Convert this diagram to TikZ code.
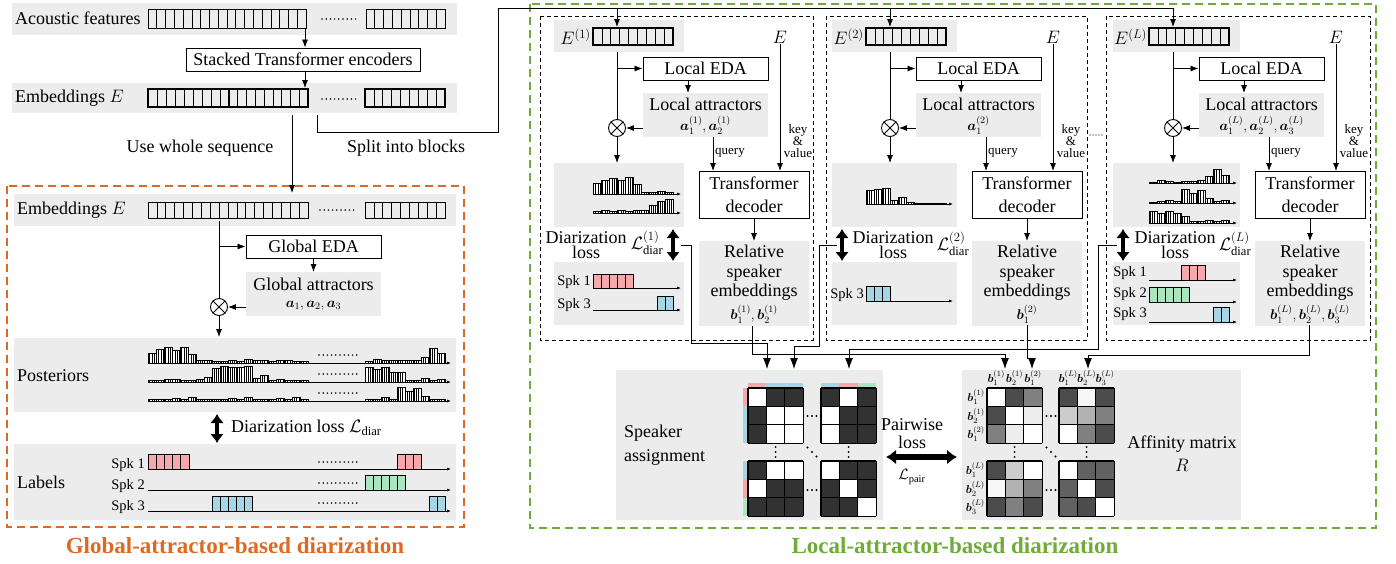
\RequirePackage{fix-cm}
\documentclass[tikz,border=0pt]{standalone}
\usepackage{amsmath}
\usepackage{fontspec}
\setmainfont{Liberation Serif}
\usetikzlibrary{arrows.meta,patterns.meta}
\definecolor{bandgray}{RGB}{236,236,236}
\definecolor{orng}{RGB}{222,105,35}
\definecolor{grn}{RGB}{110,172,55}
\definecolor{spkpink}{RGB}{246,168,170}
\definecolor{spkgreen}{RGB}{172,230,192}
\definecolor{spkblue}{RGB}{166,214,228}
\definecolor{dk}{RGB}{50,50,50}
\newcommand\myfs[1]{\fontsize{#1}{#1}\selectfont}
\newcommand\cellsrow[7]{%
  \foreach \k in {1,...,#6}{\draw[line width=0.7pt] ({#1+(#3-#1)*\k/#5},#2) -- ({#1+(#3-#1)*\k/#5},#4);}
  \draw[line width=#7] (#1,#2) rectangle (#3,#4);}
\newcommand\colcells[6]{%
  \foreach \k in {1,...,#4}{\draw[fill=#6,line width=0.7pt] ({#1+(\k-1)*#5},#2) rectangle ({#1+\k*#5},#3);}}
\newcommand\hist[4]{%
  \foreach \hh [count=\ii from 0] in {#4}{\draw[histbar] ({#1+\ii*#3},#2) rectangle ({#1+(\ii+1)*#3},{#2-\hh});}}
\newcommand\mat[4]{%
  \foreach \cc [count=\ii from 0] in {#4}{%
    \pgfmathtruncatemacro\rr{div(\ii,3)}\pgfmathtruncatemacro\qq{mod(\ii,3)}%
    \fill[fill=\cc] ({#1+\qq*#3},{#2+\rr*#3}) rectangle ({#1+(\qq+1)*#3},{#2+(\rr+1)*#3});}
  \foreach \k in {0,1,2,3}{\draw[line width=1.3pt] ({#1+\k*#3},#2) -- ({#1+\k*#3},{#2+3*#3});
    \draw[line width=1.3pt] (#1,{#2+\k*#3}) -- ({#1+3*#3},{#2+\k*#3});}}
\newcommand\hdts[2]{\foreach \d in {-4.5,0,4.5}{\fill ({#1+\d},#2) circle (1.1);}}
\newcommand\vdts[2]{\foreach \d in {-5,0,5}{\fill (#1,{#2+\d}) circle (1.1);}}
\newcommand\ddts[2]{\foreach \d in {-4.5,0,4.5}{\fill ({#1+\d},{#2+\d}) circle (1.1);}}
% common block structure (coordinates of block 1, shifted by #1)
\newcommand\blockcommon[6]{%
\begin{scope}[xshift=#1pt]
\fill[bandgray] (#3,20) rectangle (684,52);
\node[anchor=east] (E#6) at (592,37) {$E^{(#2)}$};
\cellsrow{593}{28}{673}{45}{9}{8}{2.4pt}
\coordinate (Ein#6) at (617,27);
\node (kv#6) at (780,37) {$E$};
\node[box,minimum width=125pt,minimum height=23pt] (eda#6) at (705.5,68.5) {Local EDA};
\fill[bandgray] (643,93) rectangle (768,137);
\node (la#6) at (705.5,104) {Local attractors};
\node[font=\myfs{14}] (av#6) at (705.5,125) {#4};
\node[ot] (ot#6) at (617,128) {};
\draw[line width=0.9pt] (ot#6.north east) -- (ot#6.south west) (ot#6.north west) -- (ot#6.south east);
\coordinate (vtop#6) at (617,52);
\draw[ln] (vtop#6) -- (ot#6);
\draw[arr] (617,68.5) -- (eda#6.west);
\draw[arr] (688,80) -- (688,93);
\draw[arr] (643,128) -- (ot#6);
\fill[bandgray] (#3,163) rectangle (684,227);
\draw[arr] (ot#6) -- (617,163);
\fill[bandgray] (#3,262) rectangle (684,325);
\node[box,minimum width=110pt,minimum height=47pt,align=center,font=\fontsize{18}{23}\selectfont] (dec#6) at (754,194.5) {Transformer\\decoder};
\draw[arr] (713,137) -- (713,171);
\node[small,anchor=west] at (714,153) {query};
\draw[arr] (kv#6) -- (780,171);
\node[small,align=center] at (798,141) {key\\\&\\value};
\fill[bandgray] (699,241) rectangle (809,326);
\node[align=center,font=\fontsize{18}{19.5}\selectfont] (rse#6) at (754,273) {Relative\\speaker\\embeddings};
\node[font=\myfs{14}] (bv#6) at (754,314) {#5};
\draw[arr] (dec#6) -- (754,241);
\end{scope}}
\begin{document}
\begin{tikzpicture}[x=1pt,y=-1pt,
  font=\fontsize{18}{21}\selectfont,
  every node/.style={inner sep=1pt},
  box/.style={draw,line width=0.9pt,fill=white,inner sep=0pt},
  ln/.style={line width=0.8pt},
  arr/.style={line width=0.8pt,-{Latex[length=8pt,width=6pt]}},
  bigarr/.style={line width=0.8pt,-{Latex[length=11pt,width=8pt]}},
  axis/.style={line width=0.7pt,-{Latex[length=4pt,width=3pt]}},
  histbar/.style={draw,line width=0.5pt,fill=white,postaction={pattern={Lines[angle=90,distance=2.3pt,line width=0.5pt]}}},
  dotline/.style={line width=1.7pt,line cap=round,dash pattern=on 0pt off 4.2pt},
  dbl/.style={line width=4.5pt,{Latex[length=9pt,width=14pt]}-{Latex[length=9pt,width=14pt]}},
  blockbox/.style={line width=0.9pt,dash pattern=on 4pt off 3pt},
  small/.style={font=\fontsize{13}{12}\selectfont},
  spk/.style={font=\fontsize{14.5}{16}\selectfont},
  ot/.style={circle,draw,line width=0.9pt,fill=white,minimum size=17pt,inner sep=0pt},
  dl/.style={align=center,font=\fontsize{18}{15}\selectfont,inner sep=0pt},
  ld/.style={inner sep=0pt},
  bl/.style={font=\myfs{11.5},inner sep=0pt}
]
\useasboundingbox (0,0) rectangle (1396,563);

% ================= top-left
\fill[bandgray] (12,3) rectangle (457,35);
\node[anchor=west] (aclab) at (14,18) {Acoustic features};
\cellsrow{148}{9}{306}{28}{18}{17}{0.8pt}
\cellsrow{366}{9}{445}{28}{9}{8}{0.8pt}
\draw[dotline] (322,19) -- (356,19);
\coordinate (acout) at (305,28);
\node[box,minimum width=234pt,minimum height=23pt] (ste) at (303,59.5) {Stacked Transformer encoders};
\draw[arr] (acout) -- (ste.north -| acout);
\fill[bandgray] (12,83) rectangle (457,113);
\node[anchor=west] (emblab) at (14,98) {Embeddings $E$};
\cellsrow{148}{89}{229}{107}{9}{8}{2.4pt}
\cellsrow{229}{89}{308}{107}{9}{8}{2.4pt}
\cellsrow{365}{89}{445}{107}{9}{8}{2.4pt}
\draw[dotline] (322,99) -- (356,99);
\coordinate (embin) at (305,88);
\draw[arr] (ste.south -| embin) -- (embin);
\coordinate (wsout) at (292,115);
\coordinate (sbout) at (317,115);
\node (wstext) at (200,148) {Use whole sequence};
\node (sbtext) at (406,148) {Split into blocks};

% ================= global (orange)
\draw[orng,line width=2pt,dash pattern=on 8pt off 5pt] (7,186) rectangle (464,527);
\node[orng,font=\bfseries\myfs{23}] (gtitle) at (235,546) {Global-attractor-based diarization};
\fill[bandgray] (14,194) rectangle (456,226);
\node[anchor=west] (gemblab) at (16,210) {Embeddings $E$};
\cellsrow{148}{202}{308}{218}{18}{17}{0.8pt}
\cellsrow{365}{202}{445}{218}{9}{8}{0.8pt}
\draw[dotline] (320,210) -- (356,210);
\coordinate (gemb) at (292,193);
\draw[arr] (wsout) -- (gemb);
\coordinate (gv) at (219,221);
\node[box,minimum width=135pt,minimum height=23pt] (geda) at (313.5,246.5) {Global EDA};
\fill[bandgray] (246,272) rectangle (381,316);
\node (gatt) at (313.5,284) {Global attractors};
\node[font=\myfs{14}] (gav) at (313.5,306) {$\boldsymbol{a}_1,\boldsymbol{a}_2,\boldsymbol{a}_3$};
\node[ot] (got) at (219,307) {};
\draw[line width=0.9pt] (got.north east) -- (got.south west) (got.north west) -- (got.south east);
\draw[ln] (gv) -- (got);
\draw[arr] (219,246.5) -- (geda.west);
\draw[arr] (geda.south) -- (313.5,272);
\draw[arr] (246,307) -- (got);
\coordinate (gpost) at (219,337);
\draw[arr] (got) -- (gpost);
% posteriors
\fill[bandgray] (14,338) rectangle (456,412);
\node[anchor=west] (postlab) at (16,376) {Posteriors};
\draw[axis] (148,363) -- (451,363);
\draw[axis] (148,382) -- (451,382);
\draw[axis] (148,401) -- (451,401);
\hist{148}{363}{8}{10,14,16,13,16,9,3,3,2,2,3,2,4,3,3,2,3,3,2,2}
\hist{365}{363}{8}{2,4,3,3,3,3,3,6,15,10}
\hist{148}{382}{8}{2,2,3,3,2,2,3,5,14,16,15,15,16,4,7,2,3,2,2,2}
\hist{365}{382}{8}{15,13,15,10,10,2,2,4,2,3}
\hist{148}{401}{8}{2,2,2,3,2,4,2,2,2,2,3,2,4,2,2,2,3,2,4,2}
\hist{365}{401}{8}{2,2,4,2,14,10,13,5,2,2}
\draw[dotline] (319,355) -- (357,355);
\draw[dotline] (319,374) -- (357,374);
\draw[dotline] (319,393) -- (357,393);
% diarization loss
\draw[dbl] (217,414) -- (217,443);
\node[anchor=west] (gdl) at (230,428) {Diarization loss $\mathcal{L}_{\mathrm{diar}}$};
% labels
\fill[bandgray] (14,444) rectangle (456,520);
\node[anchor=west] (lablab) at (16,482) {Labels};
\node[spk,anchor=east] at (146,465) {Spk 1};
\node[spk,anchor=east] at (146,486) {Spk 2};
\node[spk,anchor=east] at (146,507) {Spk 3};
\draw[axis] (148,469) -- (451,469);
\draw[axis] (148,490) -- (451,490);
\draw[axis] (148,511) -- (451,511);
\colcells{148}{454}{469}{5}{8.2}{spkpink}
\colcells{397}{454}{469}{3}{8}{spkpink}
\colcells{365}{475}{490}{5}{8}{spkgreen}
\colcells{212}{496}{511}{5}{8}{spkblue}
\colcells{429}{496}{511}{2}{8}{spkblue}
\draw[dotline] (319,462) -- (357,462);
\draw[dotline] (319,483) -- (357,483);
\draw[dotline] (319,503) -- (357,503);

% ================= local (green)
\draw[grn,line width=2pt,dash pattern=on 8pt off 5pt] (530,4) rectangle (1376,528);
\node[grn,font=\bfseries\myfs{23}] (ltitle) at (955,546) {Local-attractor-based diarization};
\draw[blockbox] (540,16) rectangle (813,340);
\draw[blockbox] (826,16) rectangle (1087,340);
\draw[blockbox] (1106,16) rectangle (1370,340);
\draw[line width=1.3pt,line cap=round,dash pattern=on 0pt off 3pt] (1090,135) -- (1104,135);

\blockcommon{0}{1}{554}{$\boldsymbol{a}_1^{(1)},\boldsymbol{a}_2^{(1)}$}{$\boldsymbol{b}_1^{(1)},\boldsymbol{b}_2^{(1)}$}{A}
\blockcommon{273}{2}{559}{$\boldsymbol{a}_1^{(2)}$}{$\boldsymbol{b}_1^{(2)}$}{B}
\blockcommon{556}{L}{557}{$\boldsymbol{a}_1^{(L)},\boldsymbol{a}_2^{(L)},\boldsymbol{a}_3^{(L)}$}{$\boldsymbol{b}_1^{(L)},\boldsymbol{b}_2^{(L)},\boldsymbol{b}_3^{(L)}$}{C}

% split into blocks path
\draw[ln] (sbout) -- (317,132) -- (498,132) -- (498,8) -- (1173,8);
\draw[arr] (617,8) -- (EinA);
\draw[arr] (890,8) -- (EinB);
\draw[arr] (1173,8) -- (EinC);

% block 1 specifics
\draw[axis] (593,194) -- (681,194);
\hist{593}{194}{8}{11,14,16,14,17,10,2,2,3,2}
\draw[axis] (593,213) -- (681,213);
\hist{593}{213}{8}{2,3,2,3,2,3,3,8,12,14}
\draw[dbl] (673,229) -- (673,261);
\node[dl] (dlA) at (586,245) {Diarization\\loss};
\node[ld] (LA) at (647,243) {$\mathcal{L}_{\mathrm{diar}}^{(1)}$};
\node[spk,anchor=east] at (592,282) {Spk 1};
\node[spk,anchor=east] at (592,305) {Spk 3};
\draw[axis] (593,288) -- (681,288);
\colcells{593}{274}{288}{5}{8}{spkpink}
\draw[axis] (593,310) -- (681,310);
\colcells{657}{296}{310}{2}{8}{spkblue}

% block 2 specifics
\draw[axis] (866,204) -- (953,204);
\hist{866}{204}{8}{14,15,16,4,7,2,1,1,1,1}
\draw[dbl] (842,229) -- (842,261);
\node[dl] (dlB) at (893,245) {Diarization\\loss};
\node[ld] (LB) at (953,244) {$\mathcal{L}_{\mathrm{diar}}^{(2)}$};
\node[spk,anchor=east] at (865,295) {Spk 3};
\draw[axis] (866,301) -- (953,301);
\colcells{866}{286}{301}{3}{8}{spkblue}

% block L specifics
\draw[axis] (1149,183) -- (1237,183);
\hist{1149}{183}{8}{1,3,2,1,2,2,3,7,14,8}
\draw[axis] (1149,203) -- (1237,203);
\hist{1149}{203}{8}{1,2,3,2,14,10,13,5,2,3}
\draw[axis] (1149,223) -- (1237,223);
\hist{1149}{223}{8}{12,10,12,10,7,2,2,3,2,3}
\draw[dbl] (1123,229) -- (1123,261);
\node[dl] (dlC) at (1175,245) {Diarization\\loss};
\node[ld] (LC) at (1235,244) {$\mathcal{L}_{\mathrm{diar}}^{(L)}$};
\node[spk,anchor=east] at (1148,273) {Spk 1};
\node[spk,anchor=east] at (1148,294) {Spk 2};
\node[spk,anchor=east] at (1148,314) {Spk 3};
\draw[axis] (1149,280) -- (1237,280);
\draw[axis] (1149,302) -- (1237,302);
\draw[axis] (1149,322) -- (1237,322);
\colcells{1181}{265}{280}{3}{8}{spkpink}
\colcells{1149}{287}{302}{5}{8}{spkgreen}
\colcells{1213}{307}{322}{2}{8}{spkblue}

% ================= connectors to matrices
\coordinate (sa1) at (767,369);
\coordinate (sa2) at (794,369);
\coordinate (sa3) at (849,369);
\coordinate (af1) at (1005,369);
\coordinate (af2) at (1032,369);
\coordinate (af3) at (1088,369);
\draw[bigarr] (681,245) -- (691,245) -- (691,343) -- (767,343) -- (sa1);
\draw[bigarr] (752,326) -- (752,354) -- (1005,354) -- (af1);
\draw[bigarr] (837,245) -- (819,245) -- (819,346) -- (794,346) -- (sa2);
\draw[bigarr] (1027,325) -- (1027,358) -- (1032,358) -- (af2);
\draw[bigarr] (1117,245) -- (1098,245) -- (1098,349) -- (849,349) -- (sa3);
\draw[bigarr] (1309,325) -- (1309,355) -- (1088,355) -- (af3);

% ================= speaker assignment
\fill[bandgray] (616,370) rectangle (883,520);
\node[anchor=west,align=left,font=\fontsize{18}{24}\selectfont] (spkass) at (623,445) {Speaker\\assignment};
\fill[spkpink] (748,383) rectangle (766.4,388);
\fill[spkblue] (766.4,383) rectangle (803.2,388);
\fill[spkpink] (743,388) rectangle (748,406.4);
\fill[spkblue] (743,406.4) rectangle (748,443.2);
\fill[spkblue] (821,383) rectangle (839.4,388);
\fill[spkpink] (839.4,383) rectangle (857.8,388);
\fill[spkgreen] (857.8,383) rectangle (876.2,388);
\fill[spkblue] (743,461) rectangle (748,479.4);
\fill[spkpink] (743,479.4) rectangle (748,497.8);
\fill[spkgreen] (743,497.8) rectangle (748,516.2);
\mat{748}{388}{18.4}{white,dk,dk,dk,white,white,dk,white,white}
\mat{821}{388}{18.4}{dk,white,dk,white,dk,dk,white,dk,dk}
\mat{748}{461}{18.4}{dk,white,white,white,dk,dk,dk,dk,dk}
\mat{821}{461}{18.4}{white,dk,dk,dk,white,dk,dk,dk,white}
\hdts{812}{416}
\hdts{812}{490}
\vdts{775.6}{452}
\vdts{848.6}{452}
\ddts{812}{452}

% ================= pairwise loss
\node[align=center,font=\fontsize{18}{18}\selectfont] (pw) at (912,434) {Pairwise\\loss};
\draw[line width=5.5pt,{Latex[length=10pt,width=15pt]}-{Latex[length=10pt,width=15pt]}] (886,457) -- (957,457);
\node[font=\myfs{15}] (lpair) at (912,477) {$\mathcal{L}_{\mathrm{pair}}$};

% ================= affinity matrix
\fill[bandgray] (962,370) rectangle (1241,520);
\mat{987}{388}{18.4}{white,black!70,black!50,black!70,white,black!7,black!50,black!7,white}
\mat{1059}{388}{18.4}{black!70,black!3,black!70,black!20,black!30,black!50,white,black!50,black!70}
\mat{987}{461}{18.4}{black!70,black!20,white,black!3,black!30,black!50,black!70,black!50,black!70}
\mat{1059}{461}{18.4}{white,black!62,black!62,black!62,white,black!70,black!62,black!70,white}
\node[bl] at (996.2,378) {$\boldsymbol{b}_1^{(1)}$};
\node[bl] at (1014.6,378) {$\boldsymbol{b}_2^{(1)}$};
\node[bl] at (1033,378) {$\boldsymbol{b}_1^{(2)}$};
\node[bl] at (1068.2,378) {$\boldsymbol{b}_1^{(L)}$};
\node[bl] at (1086.6,378) {$\boldsymbol{b}_2^{(L)}$};
\node[bl] at (1105,378) {$\boldsymbol{b}_3^{(L)}$};
\node[bl,anchor=east] at (985,397.2) {$\boldsymbol{b}_1^{(1)}$};
\node[bl,anchor=east] at (985,415.6) {$\boldsymbol{b}_2^{(1)}$};
\node[bl,anchor=east] at (985,434) {$\boldsymbol{b}_1^{(2)}$};
\node[bl,anchor=east] at (985,470.2) {$\boldsymbol{b}_1^{(L)}$};
\node[bl,anchor=east] at (985,488.6) {$\boldsymbol{b}_2^{(L)}$};
\node[bl,anchor=east] at (985,507) {$\boldsymbol{b}_3^{(L)}$};
\hdts{1051}{416}
\hdts{1051}{490}
\vdts{1014.6}{452}
\vdts{1086.6}{452}
\ddts{1051}{452}
\node[align=center,font=\fontsize{18}{23}\selectfont] (affl) at (1182,454) {Affinity matrix\\$R$};
\end{tikzpicture}
\end{document}
